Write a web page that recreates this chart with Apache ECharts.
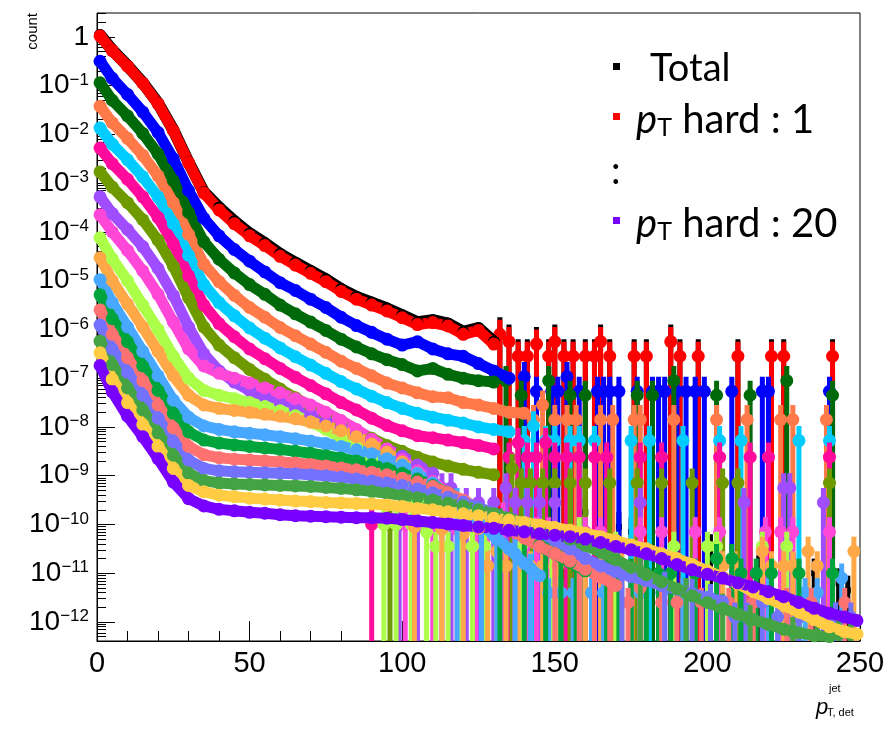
<!DOCTYPE html>
<html><head><meta charset="utf-8">
<script src="https://cdn.jsdelivr.net/npm/echarts@6/dist/echarts.min.js"></script>
<style>html,body{margin:0;padding:0;background:#fff}#c{width:889px;height:729px}</style>
</head><body><div id="c"></div>
<script>
// x positions (GeV) of the smooth-band samples
const X = [1,5,10,15,20,25,30,35,40,45,50,55,60,65,70,75,80,85,90,95,100,105,110,115,120,125,130,135,140,145,150,155,160,165,170,175,180,185,190,195,200,205,210,215,220,225,230,235,240,245,249];
// y axis decade ticks (log10 of count)
const Y_TICKS = [-12,-11,-10,-9,-8,-7,-6,-5,-4,-3,-2,-1,0];
const Y_MIN = -12.39, Y_MAX = 0.49;

const NAMES = ['pT hard : 1','pT hard : 2','pT hard : 3','pT hard : 4','pT hard : 5','pT hard : 6','pT hard : 7','pT hard : 8','pT hard : 9','pT hard : 10','pT hard : 11','pT hard : 12','pT hard : 13','pT hard : 14','pT hard : 15','pT hard : 16','pT hard : 17','pT hard : 20'];
const COLORS = ['#ff0000','#0000ff','#006a0a','#ff7a48','#00ccff','#ff0a9c','#6e9a00','#a04cff','#ff48d8','#acff48','#ffa848','#48a8ff','#00a43c','#ff7272','#7272ff','#44a444','#ffcc44','#7800ff'];

// log10(count) of each series on grid X (smooth part)
const S1 = [0.02,-0.28,-0.6,-0.95,-1.37,-1.92,-2.58,-3.2,-3.55,-3.83,-4.08,-4.28,-4.5,-4.68,-4.85,-5.02,-5.22,-5.38,-5.5,-5.62,-5.76,-5.9,-5.86,-5.93,-6.1,-6.02,-6.3];
const S2 = [-0.5,-0.85,-1.18,-1.54,-1.96,-2.5,-3.15,-3.72,-4.08,-4.36,-4.6,-4.82,-5.04,-5.2,-5.38,-5.55,-5.75,-5.92,-6.06,-6.2,-6.32,-6.25,-6.4,-6.5,-6.55,-6.7,-6.85,-7.0];
const S3 = [-0.94,-1.3,-1.62,-1.98,-2.4,-2.95,-3.6,-4.2,-4.56,-4.84,-5.08,-5.28,-5.5,-5.68,-5.85,-6.02,-6.2,-6.36,-6.5,-6.62,-6.72,-6.85,-6.8,-6.92,-7.0,-7.05,-7.08];
const S4 = [-1.42,-1.76,-2.08,-2.43,-2.85,-3.4,-4.05,-4.66,-5.02,-5.3,-5.55,-5.75,-5.96,-6.13,-6.3,-6.47,-6.65,-6.8,-6.95,-7.1,-7.2,-7.3,-7.38,-7.4,-7.5,-7.55,-7.62,-7.7,-7.72];
const S5 = [-1.87,-2.2,-2.52,-2.87,-3.28,-3.83,-4.48,-5.08,-5.45,-5.72,-5.97,-6.18,-6.38,-6.56,-6.73,-6.9,-7.07,-7.22,-7.37,-7.5,-7.62,-7.72,-7.8,-7.86,-7.92,-8.0,-8.05,-8.1];
const S6 = [-2.28,-2.6,-2.92,-3.28,-3.7,-4.24,-4.9,-5.5,-5.88,-6.15,-6.4,-6.6,-6.8,-6.98,-7.15,-7.32,-7.5,-7.65,-7.82,-7.97,-8.08,-8.18,-8.22,-8.27,-8.32,-8.38,-8.45];
const S7 = [-2.77,-3.08,-3.4,-3.75,-4.17,-4.7,-5.35,-5.95,-6.32,-6.58,-6.82,-7.02,-7.22,-7.4,-7.58,-7.75,-7.92,-8.08,-8.23,-8.38,-8.5,-8.62,-8.72,-8.8,-8.87,-8.93,-8.98];
const S8 = [-3.28,-3.62,-3.95,-4.3,-4.75,-5.3,-5.95,-6.5,-6.85,-7.08,-7.25,-7.38,-7.5,-7.62,-7.75,-7.88,-8.02,-8.15,-8.3,-8.45,-8.6,-8.78,-8.95];
const S9 = [-3.65,-4.0,-4.38,-4.8,-5.28,-5.85,-6.4,-6.75,-6.9,-7.0,-7.1,-7.2,-7.3,-7.42,-7.55,-7.7,-7.87,-8.05,-8.25,-8.45,-8.67,-8.9,-9.12,-9.35,-9.55];
const S10 = [-4.12,-4.55,-5.0,-5.5,-6.0,-6.55,-7.0,-7.25,-7.35,-7.42,-7.5,-7.58,-7.67,-7.77,-7.9,-8.05,-8.22,-8.42,-8.65,-8.9,-9.2,-9.5];
const S11 = [-4.53,-5.0,-5.48,-5.95,-6.45,-6.95,-7.35,-7.55,-7.62,-7.66,-7.7,-7.74,-7.78,-7.83,-7.9,-7.98,-8.08,-8.2,-8.35,-8.52,-8.72,-8.95,-9.2,-9.48,-9.78,-10.08];
const S12 = [-4.98,-5.45,-5.95,-6.45,-6.95,-7.45,-7.8,-7.98,-8.05,-8.1,-8.13,-8.16,-8.2,-8.24,-8.29,-8.34,-8.4,-8.47,-8.55,-8.65,-8.78,-8.95,-9.15,-9.4,-9.68,-9.95,-10.22,-10.5,-10.8,-11.05];
const S13 = [-5.29,-5.78,-6.25,-6.75,-7.25,-7.72,-8.1,-8.27,-8.33,-8.37,-8.4,-8.43,-8.46,-8.5,-8.54,-8.59,-8.64,-8.7,-8.77,-8.85,-8.95,-9.07,-9.2,-9.35,-9.52,-9.7,-9.88,-10.06,-10.24,-10.42,-10.6,-10.78,-10.95];
const S14 = [-5.6,-6.1,-6.58,-7.05,-7.55,-8.02,-8.4,-8.57,-8.63,-8.66,-8.68,-8.7,-8.72,-8.74,-8.77,-8.8,-8.84,-8.88,-8.93,-8.98,-9.05,-9.13,-9.22,-9.35,-9.5,-9.68,-9.87,-10.07,-10.28,-10.45,-10.6,-10.75,-10.92,-11.08,-11.25];
const S15 = [-5.91,-6.4,-6.88,-7.35,-7.82,-8.3,-8.68,-8.85,-8.9,-8.92,-8.93,-8.94,-8.95,-8.96,-8.98,-9.0,-9.03,-9.07,-9.11,-9.15,-9.2,-9.27,-9.35,-9.44,-9.54,-9.65,-9.77,-9.9,-10.03,-10.17,-10.32,-10.5,-10.7,-10.85,-10.97,-11.07,-11.15,-11.25,-11.33,-11.42,-11.5,-11.58];
const S16 = [-6.24,-6.72,-7.2,-7.65,-8.12,-8.58,-8.95,-9.1,-9.15,-9.17,-9.18,-9.19,-9.2,-9.21,-9.22,-9.24,-9.26,-9.29,-9.32,-9.36,-9.4,-9.45,-9.5,-9.56,-9.62,-9.7,-9.78,-9.87,-9.97,-10.07,-10.18,-10.3,-10.43,-10.57,-10.72,-10.88,-11.03,-11.18,-11.32,-11.46,-11.6,-11.72,-11.84,-11.95,-12.05,-12.15,-12.22,-12.28,-12.3];
const S17 = [-6.48,-7.02,-7.5,-7.95,-8.4,-8.85,-9.2,-9.33,-9.4,-9.43,-9.46,-9.48,-9.5,-9.52,-9.53,-9.55,-9.56,-9.57,-9.58,-9.6,-9.63,-9.67,-9.7,-9.74,-9.78,-9.82,-9.87,-9.91,-9.96,-10.01,-10.06,-10.12,-10.18,-10.25,-10.33,-10.42,-10.5,-10.6,-10.7,-10.82,-10.95,-11.08,-11.22,-11.38,-11.52,-11.66,-11.8,-11.95,-12.1,-12.2,-12.25];
const S18 = [-6.74,-7.28,-7.78,-8.2,-8.65,-9.13,-9.47,-9.62,-9.69,-9.72,-9.75,-9.77,-9.8,-9.82,-9.83,-9.84,-9.85,-9.86,-9.86,-9.87,-9.9,-9.93,-9.96,-9.99,-10.02,-10.05,-10.08,-10.12,-10.15,-10.19,-10.22,-10.25,-10.3,-10.37,-10.45,-10.52,-10.6,-10.7,-10.82,-10.93,-11.02,-11.1,-11.2,-11.28,-11.38,-11.48,-11.6,-11.72,-11.82,-11.9,-11.97];

// low-statistics bins: [x, log10(count)]; error bar reaches the axis bottom
const P1 = [[132,-6.1],[135,-6.25],[138,-6.55],[141,-6.55],[144,-6.3],[148,-6.55],[150,-6.25],[153,-6.55],[156,-6.55],[160,-6.55],[163,-6.55],[165,-6.25],[168,-6.55],[176,-6.55],[180,-6.55],[188,-6.25],[191,-6.55],[197,-6.55],[210,-6.55],[221,-6.55],[225,-6.55],[241,-6.55]];
const P2 = [[140,-6.97],[144,-7.27],[149,-7.27],[151,-7.27],[154,-6.97],[158,-7.27],[164,-7.27],[166,-7.27],[168,-7.27],[171,-7.27],[177,-7.27],[182,-7.27],[184,-7.27],[186,-7.27],[190,-7.27],[193,-7.27],[196,-7.27],[199,-7.27],[208,-7.27],[218,-7.27],[220,-7.27],[240,-7.27]];
const P3 = [[134,-7.05],[139,-7.35],[148,-7.05],[155,-7.35],[160,-7.35],[177,-7.35],[182,-7.35],[189,-7.05],[203,-7.35],[214,-7.35],[226,-7.05],[241,-7.35]];
const P4 = [[143,-7.85],[146,-7.55],[150,-7.85],[154,-7.85],[157,-7.85],[165,-7.85],[169,-7.85],[176,-7.85],[178,-7.85],[189,-7.85],[203,-7.85],[213,-7.85],[224,-7.85],[228,-7.85],[239,-7.85]];
const P5 = [[140,-8.28],[143,-7.98],[147,-8.28],[150,-8.28],[155,-8.28],[158,-8.28],[163,-8.28],[175,-8.28],[181,-8.28],[192,-8.28],[204,-8.28],[211,-8.28],[230,-8.28],[240,-8.28]];
const P6 = [[90,-10.0],[135,-8.62],[138,-8.32],[141,-8.62],[144,-8.62],[147,-8.32],[150,-8.62],[154,-8.62],[158,-8.62],[163,-8.62],[167,-8.62],[178,-8.62],[185,-8.62],[204,-8.62],[214,-8.62],[220,-8.62],[240,-8.62]];
const P7 = [[96,-10.0],[136,-8.85],[139,-9.15],[142,-9.15],[146,-9.15],[150,-9.15],[155,-9.15],[160,-9.15],[168,-9.15],[177,-9.15],[185,-9.15],[195,-9.15],[205,-9.15],[210,-9.15],[240,-9.15]];
const P8 = [[99,-10.0],[105,-10.05],[113,-9.25],[116,-9.25],[121,-9.55],[125,-9.55],[130,-9.55],[134,-9.25],[137,-9.55],[141,-9.55],[145,-9.55],[150,-9.55],[178,-9.55],[212,-9.55],[225,-9.25],[227,-9.25],[238,-9.55]];
const P9 = [[101,-10.0],[110,-10.05],[118,-10.1],[124,-9.85],[128,-10.15],[133,-9.85],[137,-10.15],[141,-10.15],[144,-10.15],[148,-10.15],[160,-10.15],[165,-10.15],[178,-10.15],[185,-10.15],[196,-10.15],[204,-10.15],[219,-10.15],[224,-10.15],[228,-10.15],[240,-10.15]];
const P10 = [[94,-10.0],[98,-10.0],[103,-10.0],[108,-10.15],[111,-10.45],[115,-10.45],[119,-10.45],[123,-10.45],[127,-10.45],[139,-10.45],[149,-10.45],[158,-10.15],[170,-10.45],[189,-10.45],[200,-10.45],[203,-10.45],[218,-10.45],[226,-10.45]];
const P11 = [[104,-10.05],[113,-10.1],[120,-10.2],[128,-10.85],[131,-10.55],[134,-10.85],[138,-10.85],[142,-10.85],[146,-10.85],[151,-10.85],[160,-10.85],[165,-10.85],[172,-10.85],[205,-10.85],[209,-10.85],[218,-10.55],[221,-10.85],[225,-10.85],[228,-10.85],[233,-10.55],[236,-10.85],[248,-10.55]];
const P12 = [[118,-9.55],[126,-10.0],[131,-10.3],[137,-10.6],[142,-10.9],[148,-11.4],[152,-11.4],[156,-11.4],[162,-11.4],[166,-11.4],[178,-11.4],[185,-11.4],[192,-11.4],[220,-11.4],[232,-11.4],[236,-11.4],[244,-11.1]];
const P13 = [[132,-9.97],[140,-10.24],[147,-10.5],[152,-10.67],[157,-10.85],[163,-11.0],[167,-11.0],[171,-11.0],[175,-11.0],[180,-11.0],[184,-11.0],[188,-11.0],[196,-11.0],[203,-10.7],[208,-10.7],[211,-11.0],[216,-11.0],[221,-11.0],[230,-11.0],[241,-11.0]];
const P14 = [[150,-10.6],[158,-10.85],[163,-11.0],[168,-11.15],[174,-11.6],[178,-11.3],[185,-11.6],[190,-11.6],[198,-11.6],[207,-11.6],[215,-11.6],[226,-11.6],[234,-11.6],[245,-11.6]];
const P15 = [[172,-11.0],[186,-11.27],[195,-11.42],[201,-11.52],[209,-11.9],[213,-11.9],[218,-11.6],[223,-11.9],[230,-11.9],[236,-11.9],[242,-11.9],[247,-11.9]];
const P16 = [[178,-10.97],[193,-11.4],[205,-11.72],[214,-11.95],[228,-12.2],[236,-12.28],[243,-12.25],[247,-12.25]];
const P17 = [];
const P18 = [];

// Total (sum of all pT-hard bins)
const T_SMOOTH = [0.04,-0.27,-0.59,-0.94,-1.36,-1.91,-2.57,-3.18,-3.5,-3.78,-4.03,-4.23,-4.45,-4.63,-4.8,-4.97,-5.17,-5.33,-5.45,-5.57,-5.71,-5.85,-5.81,-5.88,-6.05,-5.97,-6.25];
const T_SPARSE = [[132,-6.05],[135,-6.2],[138,-6.5],[141,-6.5],[144,-6.25],[148,-6.5],[150,-6.2],[153,-6.5],[156,-6.5],[160,-6.5],[163,-6.5],[165,-6.2],[168,-6.5],[176,-6.5],[180,-6.5],[188,-6.2],[191,-6.5],[197,-6.5],[210,-6.5],[221,-6.5],[225,-6.5],[241,-6.5],
  [160,-9.75],[164,-9.9],[167,-9.8],[171,-10.05],[175,-10.15],[197,-10.45],[201,-10.5],[217,-10.7],[228,-10.9],[235,-11.0],[243,-11.2],[246,-11.35]];

const SMOOTH = [S1,S2,S3,S4,S5,S6,S7,S8,S9,S10,S11,S12,S13,S14,S15,S16,S17,S18];
const SPARSE = [P1,P2,P3,P4,P5,P6,P7,P8,P9,P10,P11,P12,P13,P14,P15,P16,P17,P18];

const chart = echarts.init(document.getElementById('c'), null, {renderer:'canvas'});

function bandSeries(name, color, vals, width, sym) {
  return {
    type:'line', name, silent:true, animation:false,
    data: vals.map((v,i)=>[X[i], v]),
    symbol:'circle', symbolSize: sym, showSymbol:true, showAllSymbol:true,
    itemStyle:{color}, lineStyle:{color, width, cap:'round', join:'round'},
    clip:true
  };
}
function sparseSeries(name, color, pts, barW, r, square) {
  return {
    type:'custom', name, silent:true, animation:false, clip:true,
    data: pts,
    renderItem(params, api) {
      const x = api.value(0), L = api.value(1);
      const p = api.coord([x, L]);
      const t = api.coord([x, L + 0.3]);
      const b = api.coord([x, Y_MIN]);
      const kids = [{type:'rect', shape:{x:p[0]-barW/2, y:t[1], width:barW, height:b[1]-t[1]}, style:{fill:color}}];
      if (square) kids.push({type:'rect', shape:{x:p[0]-r, y:p[1]-r, width:2*r, height:2*r}, style:{fill:color}});
      else kids.push({type:'circle', shape:{cx:p[0], cy:p[1], r}, style:{fill:color}});
      return {type:'group', children:kids};
    }
  };
}

const series = [];
series.push(bandSeries('Total', '#000', T_SMOOTH, 12, 12));
series.push(sparseSeries('Total', '#000', T_SPARSE, 5, 3, true));
for (let k = 0; k < SMOOTH.length; k++) {
  series.push(bandSeries(NAMES[k], COLORS[k], SMOOTH[k], 11, 13));
  if (SPARSE[k].length) series.push(sparseSeries(NAMES[k], COLORS[k], SPARSE[k], 5, 6.5, false));
}

const minorY = [];
for (let n = -13; n <= 0; n++) for (let m = 2; m <= 9; m++) {
  const v = n + Math.log10(m);
  if (v > Y_MIN && v < Y_MAX) minorY.push(v);
}
const LBL_FONT = "'Liberation Sans', Arial, sans-serif";
const LEG_FONT = "Lato, 'Open Sans', sans-serif";

chart.setOption({
  backgroundColor:'#fff',
  animation:false,
  grid:{left:97, right:29, top:13, bottom:88, show:true, borderColor:'#000', borderWidth:1, backgroundColor:'transparent'},
  xAxis:{type:'value', min:0, max:250, interval:50,
    axisLine:{onZero:false, lineStyle:{color:'#000', width:1}},
    axisTick:{inside:true, length:20, lineStyle:{color:'#000'}},
    minorTick:{show:true, splitNumber:5, length:10, lineStyle:{color:'#000'}},
    splitLine:{show:false},
    axisLabel:{color:'#000', fontSize:29, fontFamily:LBL_FONT, margin:8}},
  yAxis:[
    {type:'value', min:Y_MIN, max:Y_MAX, position:'left',
      axisLine:{show:true, onZero:false, lineStyle:{color:'#000'}},
      axisTick:{show:true, inside:true, length:18, customValues:Y_TICKS, lineStyle:{color:'#000'}},
      splitLine:{show:false},
      axisLabel:{customValues:Y_TICKS, margin:8, color:'#000',
        formatter:(v)=> v===0 ? '{b|1}' : '{b|10}{s|\u2212' + (-v) + '}',
        rich:{b:{fontSize:28, fontFamily:LBL_FONT, color:'#000'}, s:{fontSize:17, fontFamily:LBL_FONT, color:'#000', verticalAlign:'top'}}}},
    {type:'value', min:Y_MIN, max:Y_MAX, position:'left',
      axisLine:{show:false, onZero:false}, splitLine:{show:false}, axisLabel:{show:false},
      axisTick:{show:true, inside:true, length:9, customValues:minorY, lineStyle:{color:'#000'}}}
  ],
  series,
  graphic:[
    {type:'text', x:33, y:13, rotation:Math.PI/2, style:{text:'count', font:"15px 'Liberation Sans'", fill:'#000', align:'right', verticalAlign:'middle'}},
    {type:'text', x:816, y:708, style:{text:'p', font:"italic 22px 'Liberation Sans'", fill:'#000', align:'left', verticalAlign:'middle'}},
    {type:'text', x:829, y:689, style:{text:'jet', font:"11px 'Liberation Sans'", fill:'#000', align:'left', verticalAlign:'middle'}},
    {type:'text', x:827, y:713, style:{text:'T, det', font:"11px 'Liberation Sans'", fill:'#000', align:'left', verticalAlign:'middle'}},
    {type:'rect', shape:{x:613, y:63, width:7, height:7}, style:{fill:'#000'}},
    {type:'text', x:650, y:69, style:{text:'Total', font:"38px " + LEG_FONT, fill:'#000', verticalAlign:'middle'}},
    {type:'rect', shape:{x:613, y:113, width:7, height:7}, style:{fill:COLORS[0]}},
    {type:'text', x:636, y:120, style:{text:'{i|p}{sb|T}{n| hard : 1}', verticalAlign:'middle',
      rich:{i:{font:"italic 40px " + LEG_FONT, fill:'#000'}, sb:{font:"25px " + LEG_FONT, fill:'#000', verticalAlign:'bottom'}, n:{font:"40px " + LEG_FONT, fill:'#000'}}}},
    {type:'text', x:611, y:172, style:{text:':', font:"38px " + LEG_FONT, fill:'#000', verticalAlign:'middle'}},
    {type:'rect', shape:{x:613, y:217, width:7, height:7}, style:{fill:COLORS[17]}},
    {type:'text', x:636, y:224, style:{text:'{i|p}{sb|T}{n| hard : 20}', verticalAlign:'middle',
      rich:{i:{font:"italic 40px " + LEG_FONT, fill:'#000'}, sb:{font:"25px " + LEG_FONT, fill:'#000', verticalAlign:'bottom'}, n:{font:"40px " + LEG_FONT, fill:'#000'}}}}
  ]
});
</script></body></html>
